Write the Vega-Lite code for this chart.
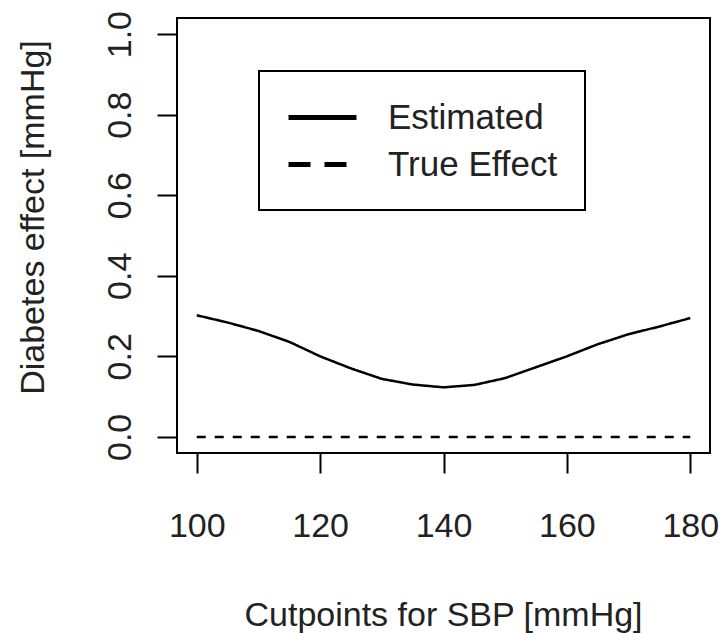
{
  "$schema": "https://vega.github.io/schema/vega-lite/v6.json",
  "width": 533,
  "height": 435,
  "autosize": {"type": "none"},
  "padding": {"left": 177, "top": 18, "right": 11, "bottom": 180},
  "background": "white",
  "config": {
    "font": "Liberation Sans",
    "view": {"stroke": "black", "strokeWidth": 2},
    "axis": {
      "grid": false,
      "domain": false,
      "ticks": true,
      "tickColor": "black",
      "tickWidth": 2,
      "tickSize": 20,
      "labelFont": "Liberation Sans",
      "labelFontSize": 34,
      "labelColor": "#222",
      "titleFont": "Liberation Sans",
      "titleFontSize": 34,
      "titleFontWeight": "normal",
      "titleColor": "#222"
    }
  },
  "data": {
    "values": [
      {"sbp": 100, "effect": 0.302, "series": "Estimated"},
      {"sbp": 105, "effect": 0.284, "series": "Estimated"},
      {"sbp": 110, "effect": 0.263, "series": "Estimated"},
      {"sbp": 115, "effect": 0.236, "series": "Estimated"},
      {"sbp": 120, "effect": 0.200, "series": "Estimated"},
      {"sbp": 125, "effect": 0.170, "series": "Estimated"},
      {"sbp": 130, "effect": 0.144, "series": "Estimated"},
      {"sbp": 135, "effect": 0.130, "series": "Estimated"},
      {"sbp": 140, "effect": 0.123, "series": "Estimated"},
      {"sbp": 145, "effect": 0.129, "series": "Estimated"},
      {"sbp": 150, "effect": 0.146, "series": "Estimated"},
      {"sbp": 155, "effect": 0.173, "series": "Estimated"},
      {"sbp": 160, "effect": 0.200, "series": "Estimated"},
      {"sbp": 165, "effect": 0.230, "series": "Estimated"},
      {"sbp": 170, "effect": 0.255, "series": "Estimated"},
      {"sbp": 175, "effect": 0.274, "series": "Estimated"},
      {"sbp": 180, "effect": 0.295, "series": "Estimated"},
      {"sbp": 100, "effect": 0, "series": "True Effect"},
      {"sbp": 180, "effect": 0, "series": "True Effect"}
    ]
  },
  "encoding": {
    "x": {
      "field": "sbp",
      "type": "quantitative",
      "scale": {"domain": [96.8, 183.2], "nice": false, "zero": false},
      "axis": {
        "values": [100, 120, 140, 160, 180],
        "title": "Cutpoints for SBP [mmHg]",
        "labelPadding": 53,
        "labelBaseline": "middle",
        "labelAlign": "center",
        "titleX": 266,
        "titleY": 162,
        "titleBaseline": "middle",
        "titleAlign": "center"
      }
    },
    "y": {
      "field": "effect",
      "type": "quantitative",
      "scale": {"domain": [-0.04, 1.04], "nice": false, "zero": false},
      "axis": {
        "values": [0, 0.2, 0.4, 0.6, 0.8, 1.0],
        "format": ".1f",
        "title": "Diabetes effect [mmHg]",
        "labelAngle": 270,
        "labelAlign": "center",
        "labelBaseline": "middle",
        "labelPadding": 37,
        "titleX": -144,
        "titleY": 199,
        "titleAngle": 270,
        "titleBaseline": "middle",
        "titleAlign": "center"
      }
    }
  },
  "layer": [
    {
      "transform": [{"filter": "datum.series === 'Estimated'"}],
      "mark": {"type": "line", "color": "black", "strokeWidth": 2.5},
      "encoding": {
        "strokeDash": {
          "field": "series",
          "type": "nominal",
          "scale": {"domain": ["Estimated", "True Effect"], "range": [[1, 0], [22, 14]]},
          "legend": {
            "title": null,
            "orient": "none",
            "legendX": 82,
            "legendY": 53,
            "symbolType": "M-1,0H3",
            "symbolSize": 1156,
            "symbolStrokeWidth": 5,
            "symbolStrokeColor": "black",
            "labelFontSize": 35,
            "labelFont": "Liberation Sans",
            "labelColor": "#222",
            "labelOffset": 63,
            "labelLimit": 400,
            "rowPadding": 9,
            "padding": 27,
            "strokeColor": "black",
            "encode": {"legend": {"update": {"strokeWidth": {"value": 2}}}}
          }
        }
      }
    },
    {
      "transform": [{"filter": "datum.series === 'True Effect'"}],
      "mark": {"type": "line", "color": "black", "strokeWidth": 2.5, "strokeDash": [9, 9]},
      "encoding": {}
    }
  ]
}
